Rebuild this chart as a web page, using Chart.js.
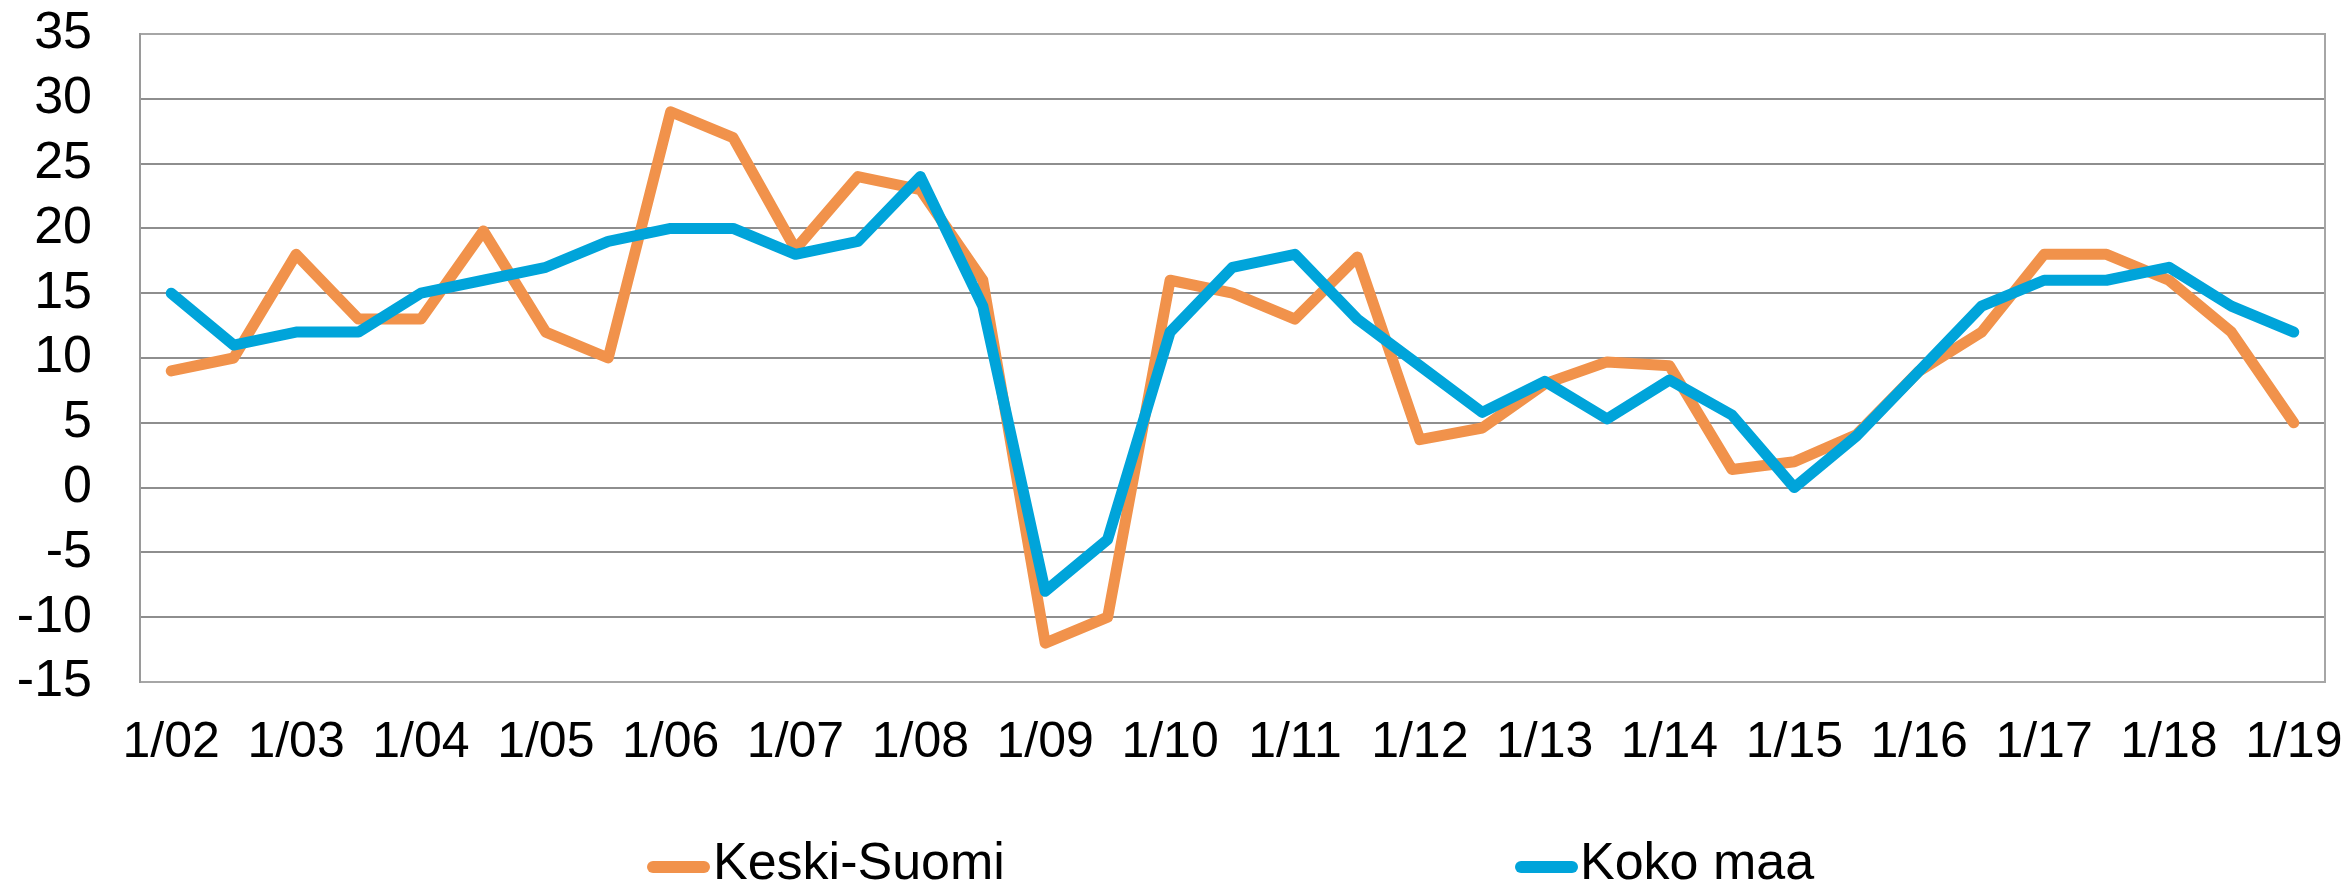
<!DOCTYPE html>
<html>
<head>
<meta charset="utf-8">
<script src="https://cdn.jsdelivr.net/npm/chart.js@4.4.1/dist/chart.umd.min.js"></script>
<style>
html,body{margin:0;padding:0;background:#fff;}
#wrap{width:2351px;height:886px;position:relative;}
</style>
</head>
<body>
<div id="wrap"><canvas id="c" width="2351" height="886"></canvas></div>
<script>
// Half-year periods (January / July)
const periods = [
  '1/02','7/02','1/03','7/03','1/04','7/04','1/05','7/05','1/06','7/06',
  '1/07','7/07','1/08','7/08','1/09','7/09','1/10','7/10','1/11','7/11',
  '1/12','7/12','1/13','7/13','1/14','7/14','1/15','7/15','1/16','7/16',
  '1/17','7/17','1/18','7/18','1/19'
];
// Labels shown on the x axis
const xTickLabels = ['1/02','1/03','1/04','1/05','1/06','1/07','1/08','1/09','1/10',
  '1/11','1/12','1/13','1/14','1/15','1/16','1/17','1/18','1/19'];
const seriesNames = ['Keski-Suomi', 'Koko maa'];
const keskiSuomi = [
  9, 10, 18, 13, 13, 19.8, 12, 10, 29, 27,
  18.4, 24, 23, 16, -12, -10, 16, 15, 13, 17.8,
  3.7, 4.6, 8, 9.7, 9.4, 1.4, 2, 4.1, 9, 12,
  18, 18, 16, 12, 5
];
const kokoMaa = [
  15, 11, 12, 12, 15, 16, 17, 19, 20, 20,
  18, 19, 24, 14, -8, -4, 12, 17, 18, 13,
  9.4, 5.8, 8.2, 5.3, 8.3, 5.6, 0, 4, 9, 14,
  16, 16, 17, 14, 12
];
const yMin = -15, yMax = 35, yStep = 5;

const ORANGE = '#F1924B';
const BLUE = '#00A4DA';
const FONT = "'Liberation Sans', Arial, sans-serif";

const bottomLegend = {
  id: 'bottomLegend',
  afterDraw(chart, args, o) {
    const ctx = chart.ctx;
    ctx.save();
    o.items.forEach((it, i) => {
      const ds = chart.data.datasets[i];
      ctx.strokeStyle = ds.borderColor;
      ctx.lineWidth = o.lineWidth;
      ctx.lineCap = 'round';
      ctx.beginPath();
      ctx.moveTo(it.x0, o.lineY);
      ctx.lineTo(it.x1, o.lineY);
      ctx.stroke();
      ctx.fillStyle = '#000';
      ctx.font = o.font;
      ctx.textBaseline = 'middle';
      ctx.textAlign = 'left';
      ctx.fillText(ds.label, it.textX, o.textY);
    });
    ctx.restore();
  }
};

new Chart(document.getElementById('c'), {
  type: 'line',
  data: {
    labels: periods,
    datasets: [
      { label: seriesNames[0], data: keskiSuomi, borderColor: ORANGE, backgroundColor: ORANGE, order: 2 },
      { label: seriesNames[1], data: kokoMaa, borderColor: BLUE, backgroundColor: BLUE, order: 1 }
    ]
  },
  options: {
    responsive: false,
    animation: false,
    events: [],
    layout: { padding: { top: 34, right: 26, bottom: 104, left: 0 } },
    elements: {
      point: { radius: 0, hoverRadius: 0 },
      line: { borderWidth: 11, tension: 0, borderJoinStyle: 'round', borderCapStyle: 'round', fill: false }
    },
    scales: {
      x: {
        type: 'category',
        offset: true,
        grid: { display: false, drawTicks: false },
        border: { display: true, color: '#a6a6a6', width: 2 },
        ticks: {
          autoSkip: false, maxRotation: 0, minRotation: 0, padding: 31,
          color: '#000', font: { family: FONT, size: 50 },
          callback: (v, i) => xTickLabels.includes(periods[i]) ? periods[i] : ''
        },
        afterFit(s) { s.height = 100; s.paddingLeft = 0; s.paddingRight = 0; }
      },
      y: {
        type: 'linear',
        min: yMin, max: yMax,
        grid: {
          drawTicks: false, lineWidth: 2,
          color: (c) => (c.tick && (c.tick.value === yMax || c.tick.value === yMin)) ? '#a6a6a6' : '#8e8e8e'
        },
        border: { display: true, color: '#9a9a9a', width: 2 },
        ticks: { stepSize: yStep, autoSkip: false, padding: 48, color: '#000', font: { family: FONT, size: 52 } },
        afterFit(s) { s.width = 140; s.paddingTop = 0; s.paddingBottom = 0; }
      },
      yRight: {
        type: 'linear', position: 'right', min: 0, max: 1,
        grid: { display: false, drawTicks: false },
        border: { display: true, color: '#a6a6a6', width: 2 },
        ticks: { display: false },
        afterFit(s) { s.width = 0; s.paddingTop = 0; s.paddingBottom = 0; }
      }
    },
    plugins: {
      legend: { display: false },
      tooltip: { enabled: false },
      bottomLegend: {
        lineWidth: 12, lineY: 867, textY: 865,
        font: "52px " + FONT,
        items: [
          { x0: 653, x1: 704, textX: 713 },
          { x0: 1521, x1: 1572, textX: 1580 }
        ]
      }
    }
  },
  plugins: [bottomLegend]
});
</script>
</body>
</html>
